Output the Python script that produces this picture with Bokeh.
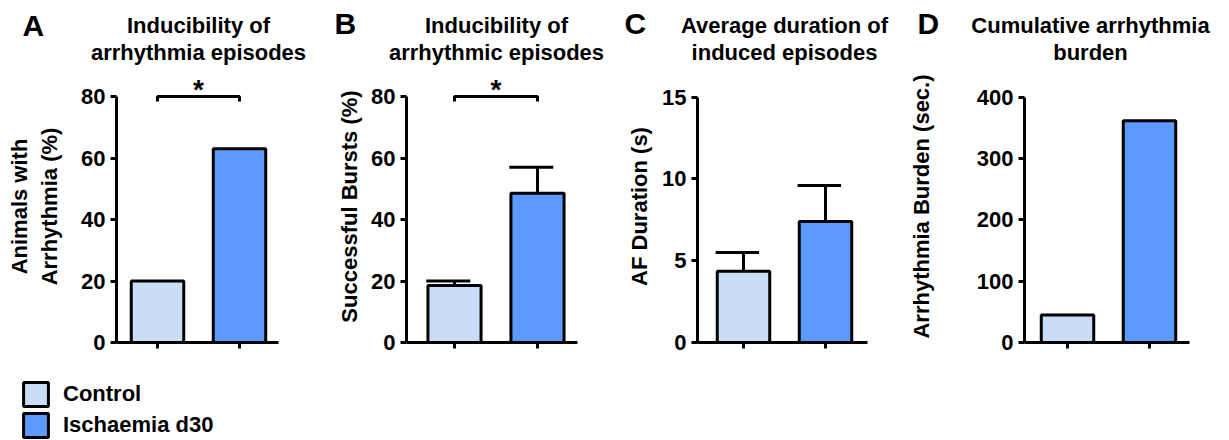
from bokeh.plotting import figure
from bokeh.layouts import row, column
from bokeh.models import Range1d, FixedTicker, Legend, LegendItem, ColumnDataSource
from bokeh.core.properties import value
from bokeh.embed import file_html
from bokeh.resources import INLINE

# ---------------- data ----------------
groups = ["Control", "Ischaemia d30"]
colors = ["#CADDF7", "#5C9BFD"]
bar_pos = [1, 2]

titles_A = ["Inducibility of", "arrhythmia episodes"]
ylabel_A = "Animals with\nArrhythmia (%)"
values_A = [20, 63]
ticks_A = [0, 20, 40, 60, 80]

titles_B = ["Inducibility of", "arrhythmic episodes"]
ylabel_B = "Successful Bursts (%)"
values_B = [18.5, 48.5]
errors_B = [1.5, 8.5]
ticks_B = [0, 20, 40, 60, 80]

titles_C = ["Average duration of", "induced episodes"]
ylabel_C = "AF Duration (s)"
values_C = [4.35, 7.4]
errors_C = [1.15, 2.2]
ticks_C = [0, 5, 10, 15]

titles_D = ["Cumulative arrhythmia", "burden"]
ylabel_D = "Arrhythmia Burden (sec.)"
values_D = [45, 362]
ticks_D = [0, 100, 200, 300, 400]

letters = ["A", "B", "C", "D"]
sig_A = "*"
sig_B = "*"

FONT = "Liberation Sans"
HEAD_H = 70          # header strip height
FT, FB = 70, 342     # frame top / bottom (page px)
FH = FB - FT


def make_panel(ylabel, values, errors, ticks, sig, L):
    ytop = L["ytop"]

    def py(px):
        return ytop * (FB - px) / FH

    scale = L["scale"]

    def px_x(px):
        return 1 + (px - L["c1"]) / scale

    p = figure(frame_width=L["fw"], frame_height=FH,
               min_border_left=L["bl"], min_border_right=L["br"],
               min_border_top=0, min_border_bottom=13,
               x_range=Range1d(px_x(L["fl"]), px_x(L["fl"] + L["fw"])),
               y_range=Range1d(0, ytop),
               output_backend="svg", toolbar_location=None, tools="")
    p.grid.visible = False
    p.outline_line_color = None

    ya = p.yaxis[0]
    ya.ticker = FixedTicker(ticks=ticks)
    ya.bounds = (0, ticks[-1])
    ya.axis_line_width = 3
    ya.major_tick_line_width = 3
    ya.major_tick_out = 6
    ya.major_tick_in = 0
    ya.minor_tick_line_color = None
    ya.major_label_standoff = 5
    ya.major_label_text_font = FONT
    ya.major_label_text_font_style = "bold"
    ya.major_label_text_font_size = "22px"
    ya.major_label_text_color = "black"
    ya.axis_label = ylabel
    ya.axis_label_standoff = L["lso"]
    ya.axis_label_text_font = FONT
    ya.axis_label_text_font_style = "bold"
    ya.axis_label_text_font_size = "22px"
    ya.axis_label_text_color = "black"

    xa = p.xaxis[0]
    xa.ticker = FixedTicker(ticks=bar_pos)
    xa.axis_line_width = 3
    xa.major_tick_line_width = 3
    xa.major_tick_out = 6
    xa.major_tick_in = 0
    xa.minor_tick_line_color = None
    xa.major_label_overrides = {1: "", 2: ""}
    xa.major_label_standoff = 0

    src = ColumnDataSource(dict(x=bar_pos, top=values, color=colors, group=groups))

    if errors is not None:
        up = [v + e for v, e in zip(values, errors)]
        p.segment(x0=bar_pos, y0=values, x1=bar_pos, y1=up, line_color="black", line_width=3)
        p.segment(x0=[x - 0.34 for x in bar_pos], y0=up, x1=[x + 0.19 for x in bar_pos], y1=up,
                  line_color="black", line_width=3)

    p.vbar(x="x", top="top", bottom=0, width=0.64, fill_color="color", line_color="black",
           line_width=3, source=src)

    if sig:
        lvl = ticks[-1]
        leg = 5 * ytop / FH
        p.multi_line(xs=[[bar_pos[0], bar_pos[0], bar_pos[1], bar_pos[1]]],
                     ys=[[lvl - leg, lvl, lvl, lvl - leg]], line_color="black", line_width=3)
        p.text(x=[sum(bar_pos) / 2], y=[py(89)], text=[sig], text_align="center",
               text_baseline="alphabetic", text_font=value(FONT), text_font_style="bold",
               text_font_size="28px", text_color="black")
    return p


def make_header(letter, titles, H):
    off, w = H["off"], H["w"]
    h = figure(frame_width=w, frame_height=HEAD_H, min_border=0,
               x_range=Range1d(off, off + w), y_range=Range1d(HEAD_H, 0),
               x_axis_location=None, y_axis_location=None,
               output_backend="svg", toolbar_location=None, tools="")
    h.grid.visible = False
    h.outline_line_color = None
    h.text(x=[H["tx"]] * 2, y=[25, 52], text=titles, text_align="center",
           text_baseline="alphabetic", text_font=value(FONT), text_font_style="bold",
           text_font_size="22px", text_color="black")
    h.text(x=[H["lx"]], y=[H["ly"]], text=[letter], text_align="left",
           text_baseline="alphabetic", text_font=value(FONT), text_font_style="bold",
           text_font_size="30px", text_color="black")
    return h


LA = dict(fl=116, fw=162, bl=116, br=22, c1=157, scale=82, ytop=88.46, lso=16)
LB = dict(fl=406, fw=171, bl=106, br=33, c1=454, scale=83, ytop=88.46, lso=6)
LC = dict(fl=697, fw=170, bl=87, br=38, c1=743, scale=82, ytop=16.62, lso=7)
LD = dict(fl=1012, fw=165, bl=107, br=52, c1=1055, scale=82, ytop=444.0, lso=40)

HA = dict(off=0, w=320, tx=198, lx=22, ly=25)
HB = dict(off=320, w=295, tx=496, lx=334, ly=23)
HC = dict(off=615, w=295, tx=784, lx=624, ly=23)
HD = dict(off=910, w=319, tx=1090, lx=917, ly=23)

headers = row(make_header(letters[0], titles_A, HA), make_header(letters[1], titles_B, HB),
              make_header(letters[2], titles_C, HC), make_header(letters[3], titles_D, HD),
              spacing=0)

pA = make_panel(ylabel_A, values_A, None, ticks_A, sig_A, LA)
pB = make_panel(ylabel_B, values_B, errors_B, ticks_B, sig_B, LB)
pC = make_panel(ylabel_C, values_C, errors_C, ticks_C, None, LC)
pD = make_panel(ylabel_D, values_D, None, ticks_D, None, LD)

# legend panel (swatch renderers carry no drawable data, only their styles)
nan = float("nan")
lf = figure(frame_width=300, frame_height=81, min_border_left=0, min_border_right=0,
            min_border_top=4, min_border_bottom=0, x_range=Range1d(0, 1), y_range=Range1d(0, 1),
            x_axis_location=None, y_axis_location=None,
            output_backend="svg", toolbar_location=None, tools="")
lf.grid.visible = False
lf.outline_line_color = None
rends = [lf.vbar(x=[nan], top=[nan], bottom=nan, width=0.5, fill_color=c, line_color="black",
                 line_width=3) for c in colors]
legend = Legend(items=[LegendItem(label=g, renderers=[r]) for g, r in zip(groups, rends)],
                location="top_left", margin=20, padding=0, spacing=1,
                glyph_width=31, glyph_height=30, label_standoff=12, label_height=30,
                label_text_font=FONT, label_text_font_style="bold", label_text_font_size="22px",
                label_text_color="black", border_line_alpha=0, background_fill_alpha=0)
lf.add_layout(legend)

layout = column(headers, row(pA, pB, pC, pD, spacing=0), lf, spacing=0)
open("out.html", "w").write(file_html(layout, INLINE))
